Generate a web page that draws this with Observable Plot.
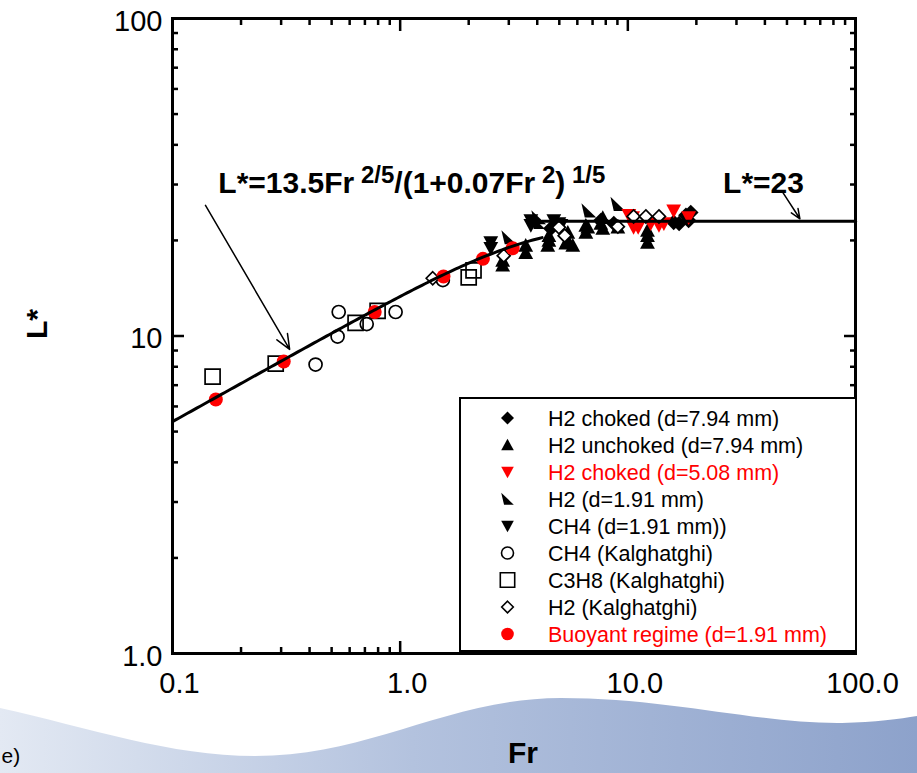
<!DOCTYPE html>
<html>
<head>
<meta charset="utf-8">
<script src="https://cdn.jsdelivr.net/npm/d3@7"></script>
<script src="https://cdn.jsdelivr.net/npm/@observablehq/plot@0.6"></script>
<style>
html, body { margin: 0; padding: 0; background: #fff; }
#wrap { position: relative; width: 917px; height: 773px; overflow: hidden; font-family: "Liberation Sans", Arial, Helvetica, sans-serif; }
#wrap > svg { position: absolute; left: 0; top: 0; }
</style>
</head>
<body>
<div id="wrap"></div>
<script>
// ---------- data: [Fr, L*] ----------
const h2Choked794 = [[4.59,21.8],[7.61,23.1],[8.68,22.6],[15.9,22.8],[16.8,22.6],[18.0,24.0],[18.5,23.1],[18.9,24.5]];
const h2Unchoked794 = [[2.82,17.3],[2.82,16.7],[3.56,19.3],[3.56,18.3],[4.45,19.3],[4.50,20.0],[4.50,20.7],[5.34,19.6],[5.45,20.0],[5.45,21.2],[5.73,19.3],[6.54,22.3],[6.54,21.2],[6.67,22.0],[7.61,22.6],[7.76,23.6],[7.76,21.8],[9.04,22.0],[12.2,19.7],[12.2,20.7],[12.2,21.5]];
const h2Choked508 = [[10.1,24.0],[10.5,23.6],[10.6,22.0],[11.1,22.0],[12.6,22.6],[13.7,22.3],[14.4,22.6],[15.9,24.8],[18.5,23.6]];
const h2d191 = [[3.00,20.4],[4.02,22.8],[4.06,23.6],[6.74,24.8],[9.04,26.0]];
const ch4d191 = [[2.50,19.7],[2.50,18.9],[3.75,23.1],[3.75,22.3],[4.73,23.1],[4.98,22.6],[5.08,22.3]];
const ch4Kal = [[0.425,8.13],[0.531,9.96],[0.537,11.9],[0.713,10.9],[0.955,11.9],[1.54,15.0]];
const c3h8Kal = [[0.150,7.45],[0.284,8.19],[0.637,11.0],[0.796,12.0],[2.00,15.3],[2.10,16.1]];
const h2Kal = [[1.39,15.2],[2.85,17.9],[4.98,22.0],[5.28,20.7],[9.04,22.1],[10.6,23.8],[12.0,23.8],[13.7,23.8]];
const buoyant = [[0.155,6.31],[0.308,8.31],[0.773,11.9],[1.55,15.4],[2.31,17.5],[3.12,18.9]];

const legendLabels = ["H2 choked (d=7.94 mm)","H2 unchoked (d=7.94 mm)","H2 choked (d=5.08 mm)","H2 (d=1.91 mm)","CH4 (d=1.91 mm))","CH4 (Kalghatghi)","C3H8 (Kalghatghi)","H2 (Kalghatghi)","Buoyant regime (d=1.91 mm)"];

// correlation L* = 13.5 Fr^(2/5) / (1 + 0.07 Fr^2)^(1/5), and plateau L* = 23
const coefA = 13.5, coefB = 0.07, plateau = 23, frSwitch = 4.2, frMin = 0.1, frMax = 100;

const xMajor = [0.1, 1, 10, 100];
const xTickLabels = ["0.1", "1.0", "10.0", "100.0"];
const yMajor = [1, 10, 100];
const yTickLabels = ["1.0", "10", "100"];

const annotations = [
  {Fr: 0.159, L: 30.2, label: "L*=13.5Fr 2/5/(1+0.07Fr 2) 1/5"},
  {Fr: 26.2, L: 30.2, label: "L*=23"}
];
const arrows = [
  {Fr1: 0.1396, L1: 25.8, Fr2: 0.327, L2: 9.07},
  {Fr1: 48.0, L1: 28.3, Fr2: 57.0, L2: 23.4}
];

// ---------- derived ----------
const minor = decs => decs.flatMap(d => [2,3,4,5,6,7,8,9].map(k => k * d));
const xMinor = minor([0.1, 1, 10]);
const yMinor = minor([1, 10]);

const curve = d3.range(0, 121).map(i => {
  const fr = frMin * Math.pow(frSwitch / frMin, i / 120);
  return {Fr: fr, L: coefA * Math.pow(fr, 0.4) / Math.pow(1 + coefB * fr * fr, 0.2)};
});
const flat = [{Fr: frSwitch, L: plateau}, {Fr: frMax, L: plateau}];

// ---------- symbols ----------
const mk = f => ({draw(c, size) { f(c, Math.sqrt(size / Math.PI)); }});
const sym = {
  diamond: mk((c, r) => { c.moveTo(0, -r); c.lineTo(r, 0); c.lineTo(0, r); c.lineTo(-r, 0); c.closePath(); }),
  triUp: mk((c, r) => { c.moveTo(0, -r); c.lineTo(r, r * 0.85); c.lineTo(-r, r * 0.85); c.closePath(); }),
  triDown: mk((c, r) => { c.moveTo(0, r); c.lineTo(r, -r * 0.85); c.lineTo(-r, -r * 0.85); c.closePath(); }),
  triRight: mk((c, r) => { c.moveTo(-r, -r); c.lineTo(r, r * 0.9); c.lineTo(-r * 0.55, r * 0.9); c.closePath(); }),
  square: mk((c, r) => { c.rect(-r, -r, 2 * r, 2 * r); }),
  circle: mk((c, r) => { c.moveTo(r, 0); c.arc(0, 0, r, 0, 2 * Math.PI); c.closePath(); })
};

const RED = "#ff0000";
const series = [
  {data: h2Choked794, symbol: sym.diamond, r: 7.8, lr: 6.5, fill: "black", stroke: "none", text: "black"},
  {data: h2Unchoked794, symbol: sym.triUp, r: 7.4, lr: 6.3, fill: "black", stroke: "none", text: "black"},
  {data: h2Choked508, symbol: sym.triDown, r: 7.4, lr: 6.3, fill: RED, stroke: "none", text: RED},
  {data: h2d191, symbol: sym.triRight, r: 7.4, lr: 6.3, fill: "black", stroke: "none", text: "black"},
  {data: ch4d191, symbol: sym.triDown, r: 7.4, lr: 6.3, fill: "black", stroke: "none", text: "black"},
  {data: ch4Kal, symbol: sym.circle, r: 6.5, lr: 6, fill: "none", stroke: "black", text: "black"},
  {data: c3h8Kal, symbol: sym.square, r: 7.5, lr: 7.2, fill: "none", stroke: "black", text: "black"},
  {data: h2Kal, symbol: sym.diamond, r: 6.5, lr: 5.8, fill: "white", stroke: "black", text: "black"},
  {data: buoyant, symbol: sym.circle, r: 7, lr: 6.3, fill: RED, stroke: "none", text: RED}
];
series.forEach((s, i) => s.name = legendLabels[i]);
const drawOrder = [5, 6, 1, 4, 3, 0, 2, 7, 8];

const FONT = "'Liberation Sans', Arial, Helvetica, sans-serif";
const W = 917, H = 773;

// ---------- background wave ----------
const wrap = d3.select("#wrap");
const bg = wrap.append("svg").attr("width", W).attr("height", H);
const grad = bg.append("defs").append("linearGradient").attr("id", "wg").attr("x1", 0).attr("x2", 1).attr("y1", 0).attr("y2", 0);
grad.append("stop").attr("offset", 0).attr("stop-color", "#e3e9f3");
grad.append("stop").attr("offset", 0.45).attr("stop-color", "#b3c2de");
grad.append("stop").attr("offset", 1).attr("stop-color", "#8da2cb");
bg.append("path").attr("fill", "url(#wg)")
  .attr("d", "M0,708 C90,728 170,756 255,756 C370,756 450,698 561,698 C670,698 760,724 842,723 C875,722 900,719 917,716 L917,773 L0,773 Z");

// ---------- plot ----------
const px = d => d[0], py = d => d[1];
const chart = Plot.plot({
  width: W, height: H,
  marginLeft: 172, marginRight: 62, marginTop: 18, marginBottom: 120,
  x: {type: "log", domain: [frMin, frMax], label: null},
  y: {type: "log", domain: [1, 100], label: null},
  style: {fontFamily: FONT, background: "transparent", color: "black", overflow: "visible"},
  marks: [
    ...drawOrder.map(i => {
      const s = series[i];
      return Plot.dot(s.data, {x: px, y: py, symbol: s.symbol, r: s.r, fill: s.fill, stroke: s.stroke, strokeWidth: 1.7});
    }),
    Plot.line(curve, {x: "Fr", y: "L", stroke: "black", strokeWidth: 3}),
    Plot.line(flat, {x: "Fr", y: "L", stroke: "black", strokeWidth: 3}),
    Plot.arrow(arrows, {x1: "Fr1", y1: "L1", x2: "Fr2", y2: "L2", stroke: "black", strokeWidth: 1.5, headLength: 16, headAngle: 45}),
    Plot.text(annotations, {x: "Fr", y: "L", text: "label", textAnchor: "start", lineAnchor: "middle", fontSize: 30, fontWeight: "bold", fill: "black"}),
    // ticks (inward) on all four sides
    Plot.axisX(xMajor, {anchor: "bottom", tickSize: -12, tickFormat: () => "", strokeWidth: 2.5, label: null}),
    Plot.axisX(xMinor, {anchor: "bottom", tickSize: -6, tickFormat: () => "", strokeWidth: 2.5, label: null}),
    Plot.axisX(xMajor, {anchor: "top", tickSize: -12, tickFormat: () => "", strokeWidth: 2.5, label: null}),
    Plot.axisX(xMinor, {anchor: "top", tickSize: -6, tickFormat: () => "", strokeWidth: 2.5, label: null}),
    Plot.axisY(yMajor, {anchor: "left", tickSize: -12, tickFormat: () => "", strokeWidth: 2.5, label: null}),
    Plot.axisY(yMinor, {anchor: "left", tickSize: -6, tickFormat: () => "", strokeWidth: 2.5, label: null}),
    Plot.axisY(yMajor, {anchor: "right", tickSize: -12, tickFormat: () => "", strokeWidth: 2.5, label: null}),
    Plot.axisY(yMinor, {anchor: "right", tickSize: -6, tickFormat: () => "", strokeWidth: 2.5, label: null}),
    // tick labels
    Plot.axisX(xMajor, {anchor: "bottom", tickSize: 0, tickPadding: 19, dx: 7, fontSize: 29, tickFormat: d => xTickLabels[xMajor.indexOf(d)], label: null}),
    Plot.axisY(yMajor, {anchor: "left", tickSize: 0, tickPadding: 10, dy: 3, fontSize: 29, tickFormat: d => yTickLabels[yMajor.indexOf(d)], label: null}),
    Plot.frame({stroke: "black", strokeWidth: 3}),
    // axis titles
    Plot.text(["L*"], {frameAnchor: "left", text: d => d, rotate: -90, dx: -135, dy: -12, fontSize: 30, fontWeight: "bold", textAnchor: "middle", lineAnchor: "middle"}),
    Plot.text(["Fr"], {frameAnchor: "bottom", text: d => d, dx: 9, dy: 100, fontSize: 30, fontWeight: "bold", textAnchor: "middle", lineAnchor: "middle"}),
    Plot.text(["e)"], {frameAnchor: "bottom-left", text: d => d, dx: -171, dy: 103, fontSize: 21, textAnchor: "start", lineAnchor: "middle"})
  ]
});
wrap.node().appendChild(chart);

// superscripts in the correlation label
d3.select(chart).selectAll("text").each(function() {
  if (this.textContent === annotations[0].label) {
    const t = d3.select(this);
    t.text(null);
    const parts = [["L*=13.5Fr", false], [" 2/5", true], ["/(1+0.07Fr", false], [" 2", true], [")", false], [" 1/5", true]];
    let cur = 0;
    parts.forEach(([s, sup]) => {
      const sp = t.append("tspan").text(s);
      const target = sup ? -10 : 0;
      if (target !== cur) sp.attr("dy", target - cur);
      cur = target;
      if (sup) sp.attr("font-size", 24);
    });
  }
});

// ---------- legend ----------
const lg = wrap.append("svg").attr("width", W).attr("height", H).style("pointer-events", "none");
lg.append("rect").attr("x", 460).attr("y", 398).attr("width", 396).attr("height", 253)
  .attr("fill", "white").attr("stroke", "black").attr("stroke-width", 2);
series.forEach((s, i) => {
  const cy = 418 + 27 * i;
  lg.append("path")
    .attr("transform", `translate(507.5,${cy})`)
    .attr("d", d3.symbol(s.symbol, s.lr * s.lr * Math.PI)())
    .attr("fill", s.fill).attr("stroke", s.stroke === "none" ? null : s.stroke).attr("stroke-width", 1.6);
  lg.append("text").attr("x", 548).attr("y", cy).attr("dy", "0.35em")
    .attr("font-family", FONT).attr("font-size", 21.5).attr("fill", s.text).text(s.name);
});
</script>
</body>
</html>
